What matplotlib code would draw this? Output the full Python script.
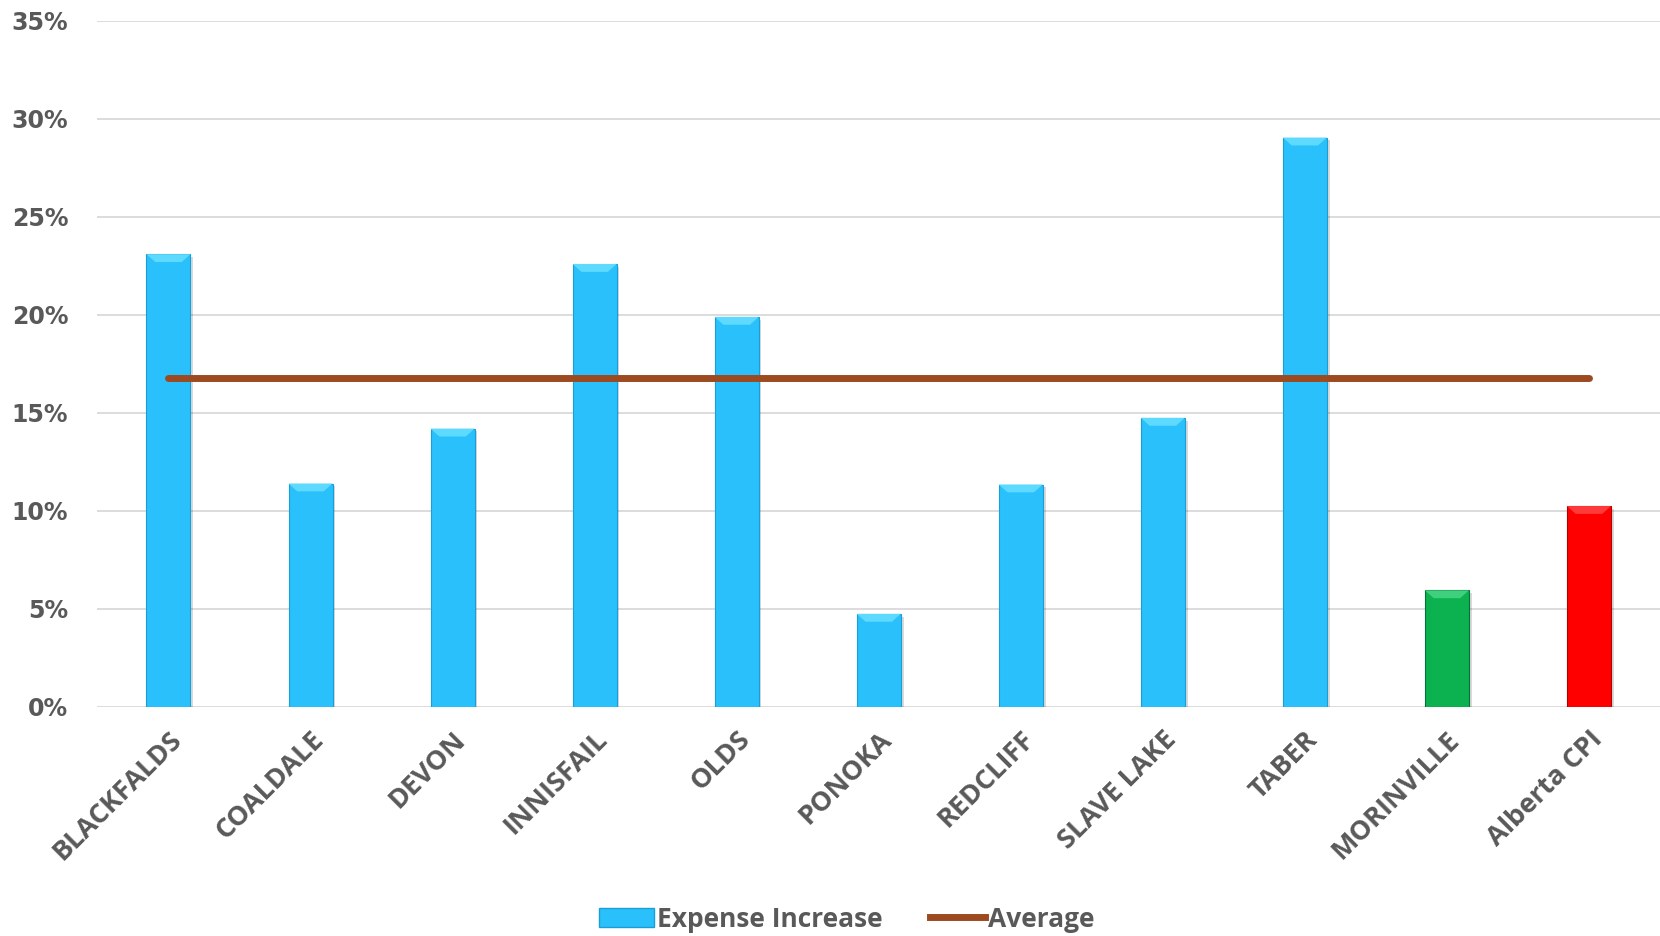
import numpy as np
import matplotlib.pyplot as plt
import matplotlib.patheffects as pe
from matplotlib.patches import Polygon, Patch
from matplotlib.lines import Line2D
from matplotlib.ticker import FuncFormatter, MultipleLocator

# Expense increase by municipality (%)
towns = ["BLACKFALDS", "COALDALE", "DEVON", "INNISFAIL", "OLDS", "PONOKA",
         "REDCLIFF", "SLAVE LAKE", "TABER", "MORINVILLE", "Alberta CPI"]
expense_increase = [23.1, 11.4, 14.2, 22.6, 19.9, 4.75, 11.35, 14.75, 29.05, 5.95, 10.25]
average_increase = 16.8

bar_colors = ["#29C0FB"] * 9 + ["#0CB24F", "#FF0000"]
bevel_colors = ["#5FDAFF"] * 9 + ["#3FD07E", "#FF3A3A"]
edge_colors = ["#1A9ED6"] * 9 + ["#06703A", "#B00000"]

TEXT = "#595959"
GRID = "#D9D9D9"
AVG = "#9E4A20"

fig = plt.figure(figsize=(16.6, 9.36), dpi=100)
ax = fig.add_axes([0.0587, 0.2447, 0.9413, 0.7329])

x = np.arange(len(towns))
width = 0.31
bars = ax.bar(x, expense_increase, width=width, color=bar_colors,
              edgecolor=edge_colors, linewidth=0.8, zorder=3)
for b in bars:
    b.set_path_effects([pe.SimplePatchShadow(offset=(2, -2), shadow_rgbFace="#000000", alpha=0.15),
                        pe.Normal()])

# bevel highlight on top of each bar
bev_h = 0.4
for xi, v, c in zip(x, expense_increase, bevel_colors):
    l, r = xi - width / 2, xi + width / 2
    inset = width * 0.2
    ax.add_patch(Polygon([[l, v], [r, v], [r - inset, v - bev_h], [l + inset, v - bev_h]],
                         closed=True, facecolor=c, edgecolor="none", zorder=4))

# average line
ax.plot([x[0], x[-1]], [average_increase] * 2, color=AVG, linewidth=5,
        solid_capstyle="round", zorder=5)

ax.set_xlim(-0.5, len(towns) - 0.5)
ax.set_ylim(0, 35)
ax.yaxis.set_major_locator(MultipleLocator(5))
ax.yaxis.set_major_formatter(FuncFormatter(lambda v, _: f"{v:.0f}%"))
ax.grid(axis="y", color=GRID, linewidth=1.3, zorder=0)
for s in ax.spines.values():
    s.set_visible(False)
ax.tick_params(axis="both", length=0)
ax.tick_params(axis="y", pad=21)

for lab in ax.get_yticklabels():
    lab.set_fontfamily("DejaVu Sans")
    lab.set_fontweight("bold")
    lab.set_fontsize(17)
    lab.set_color(TEXT)

ax.set_xticks(x)
ax.set_xticklabels(towns, rotation=45, ha="right", rotation_mode="anchor",
                   fontfamily="Open Sans", fontweight="bold", fontsize=19.5, color=TEXT)
ax.tick_params(axis="x", pad=14)

handles = [Patch(facecolor="#29C0FB", edgecolor="#1A9ED6", label="Expense Increase"),
           Line2D([0], [0], color=AVG, linewidth=5, label="Average")]
fig.legend(handles=handles, loc="center", bbox_to_anchor=(0.51, 0.018), ncol=2,
           frameon=False, handlelength=2.1, handletextpad=0.1, columnspacing=1.8,
           prop={"family": "Open Sans", "weight": "bold", "size": 19},
           labelcolor=TEXT)

fig.savefig("out.png", dpi=100)
